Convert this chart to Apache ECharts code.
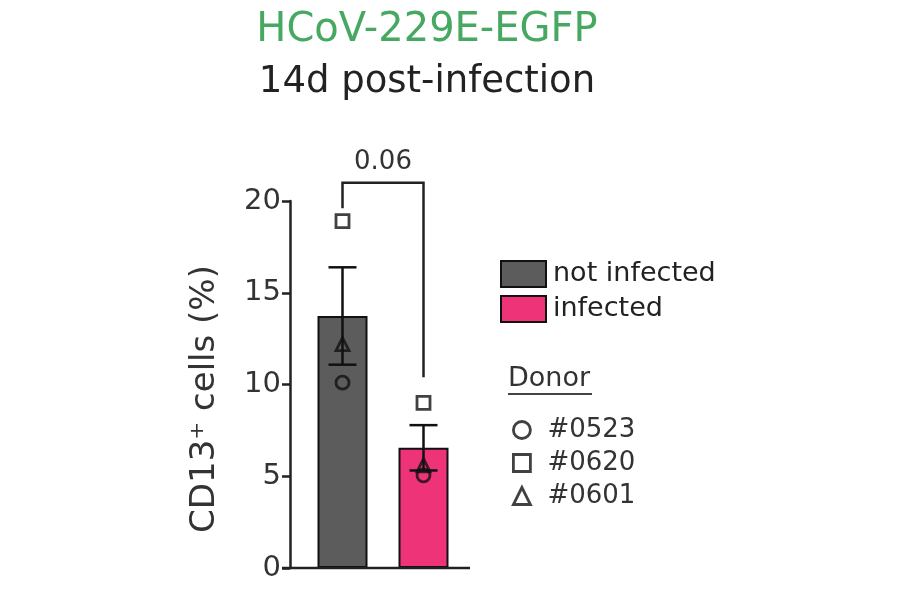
<!DOCTYPE html>
<html>
<head>
<meta charset="utf-8">
<script src="https://cdn.jsdelivr.net/npm/echarts@6/dist/echarts.min.js"></script>
<style>html,body{margin:0;padding:0;background:#fff}#c{width:900px;height:594px}</style>
</head>
<body>
<div id="c"></div>
<script>
// ---- data ----
const categories = ['not infected', 'infected'];
const donorNames = ['#0523', '#0620', '#0601'];
const donor0523 = [10.1, 5.05];   // circle
const donor0620 = [18.9, 9.0];    // square
const donor0601 = [12.2, 5.6];    // triangle
const yTicks = [0, 5, 10, 15, 20];
const pValueText = '0.06';
const bracketLeftEnd = [19.6];
const bracketTop = [21.0];
const bracketRightEnd = [10.4];
const pLabelValue = [22.1];
const titleLine1 = 'HCoV-229E-EGFP';
const titleLine2 = '14d post-infection';
const yAxisTitle = 'CD13\u207A cells (%)';
const legendTitle = 'Donor';

// ---- derived stats ----
const donorSets = [donor0523, donor0620, donor0601];
const means = categories.map((c, i) => donorSets.reduce((s, d) => s + d[i], 0) / donorSets.length);
const sems = categories.map((c, i) => {
  const m = means[i];
  const v = donorSets.reduce((s, d) => s + (d[i] - m) ** 2, 0) / (donorSets.length - 1);
  return Math.sqrt(v) / Math.sqrt(donorSets.length);
});

// ---- layout ----
const FONT = 'DejaVu Sans';
const gridLeft = 302, gridWidth = 162, gridTop = 201, gridBottom = 26;
const axisOffset = 12, tickLen = 8;
const barColors = ['#5c5c5c', '#ef3378'];

const chart = echarts.init(document.getElementById('c'), null, {renderer: 'canvas'});

const barSeries = categories.map((name, i) => ({
  type: 'bar',
  name: name,
  data: categories.map((c, j) => j === i ? means[j] : '-'),
  barWidth: 50,
  barGap: '-100%',
  itemStyle: {color: barColors[i], borderColor: '#111', borderWidth: 2},
  z: 2
}));

const errSeries = {
  type: 'custom',
  name: 'err',
  data: categories.map((c, i) => [i, means[i] - sems[i], means[i] + sems[i]]),
  z: 3,
  renderItem: function (params, api) {
    const lo = api.coord([api.value(0), api.value(1)]);
    const hi = api.coord([api.value(0), api.value(2)]);
    const cw = 14;
    const st = {stroke: '#111', lineWidth: 2.5};
    return {type: 'group', children: [
      {type: 'line', shape: {x1: hi[0], y1: hi[1], x2: lo[0], y2: lo[1]}, style: st},
      {type: 'line', shape: {x1: hi[0] - cw, y1: hi[1], x2: hi[0] + cw, y2: hi[1]}, style: st},
      {type: 'line', shape: {x1: lo[0] - cw, y1: lo[1], x2: lo[0] + cw, y2: lo[1]}, style: st}
    ]};
  }
};

const symbols = ['circle', 'rect', 'triangle'];
const scatterSeries = donorNames.map((n, k) => ({
  type: 'scatter',
  name: n,
  data: categories.map((c, i) => [i, donorSets[k][i]]),
  symbol: symbols[k],
  symbolSize: 13,
  itemStyle: {color: 'rgba(0,0,0,0)', borderColor: '#111', borderWidth: 2.8},
  z: 4,
  clip: false
}));

const bracketSeries = {
  type: 'custom',
  name: 'bracket',
  clip: false,
  z: 5,
  data: [[0, 1, bracketLeftEnd[0], bracketTop[0], bracketRightEnd[0], pLabelValue[0]]],
  renderItem: function (params, api) {
    const a = api.coord([api.value(0), api.value(2)]);
    const b = api.coord([api.value(0), api.value(3)]);
    const c = api.coord([api.value(1), api.value(3)]);
    const d = api.coord([api.value(1), api.value(4)]);
    const t = api.coord([api.value(0), api.value(5)]);
    const tx = (b[0] + c[0]) / 2;
    return {type: 'group', children: [
      {type: 'polyline', shape: {points: [a, b, c, d]}, style: {stroke: '#222', lineWidth: 2.5, fill: null}},
      {type: 'text', x: tx, y: t[1], style: {text: pValueText, font: '26px "' + FONT + '"', fill: '#333', align: 'center', verticalAlign: 'middle'}}
    ]};
  }
};

const axisY = 594 - gridBottom;
const axisX = gridLeft - axisOffset;

chart.setOption({
  animation: false,
  backgroundColor: '#fff',
  grid: {left: gridLeft, width: gridWidth, top: gridTop, bottom: gridBottom, containLabel: false},
  xAxis: {
    type: 'category', data: categories,
    axisLine: {show: false}, axisTick: {show: false}, axisLabel: {show: false}
  },
  yAxis: {
    type: 'value', min: yTicks[0], max: yTicks[yTicks.length - 1], interval: yTicks[1] - yTicks[0],
    offset: axisOffset,
    axisLine: {show: true, lineStyle: {color: '#222', width: 2.5}},
    axisTick: {show: true, length: tickLen, lineStyle: {color: '#222', width: 2.5}},
    axisLabel: {margin: 9, fontSize: 29, fontFamily: FONT, color: '#333'},
    splitLine: {show: false}
  },
  legend: [
    {
      data: categories.map(n => ({name: n, icon: 'rect'})), orient: 'vertical', left: 495, top: 255,
      itemWidth: 45, itemHeight: 26, itemGap: 7, selectedMode: false,
      textStyle: {fontSize: 27, fontFamily: FONT, color: '#222', padding: [0, 0, 0, 2]}
    },
    {
      data: donorNames.map((n, k) => ({name: n, icon: symbols[k]})),
      orient: 'vertical', left: 507, top: 412,
      itemWidth: 17, itemHeight: 17, itemGap: 7, selectedMode: false,
      itemStyle: {color: 'rgba(0,0,0,0)', borderColor: '#111', borderWidth: 2.8},
      textStyle: {fontSize: 26, fontFamily: FONT, color: '#333', padding: [0, 0, 0, 12]}
    }
  ],
  graphic: [
    {type: 'text', x: 427, y: 31, style: {text: titleLine1, font: '40px "' + FONT + '"', fill: '#47a862', align: 'center', verticalAlign: 'middle'}},
    {type: 'text', x: 427, y: 82, style: {text: titleLine2, font: '37px "' + FONT + '"', fill: '#222', align: 'center', verticalAlign: 'middle'}},
    {type: 'text', x: 205, y: 399, rotation: Math.PI / 2, style: {text: yAxisTitle, font: '34px "' + FONT + '"', fill: '#333', align: 'center', verticalAlign: 'middle'}},
    {type: 'text', x: 508, y: 379, style: {text: legendTitle, font: '27px "' + FONT + '"', fill: '#333', align: 'left', verticalAlign: 'middle'}},
    {type: 'line', shape: {x1: 508, y1: 394, x2: 592, y2: 394}, style: {stroke: '#444', lineWidth: 2}},
    {type: 'line', shape: {x1: axisX - tickLen, y1: axisY, x2: 470, y2: axisY}, style: {stroke: '#222', lineWidth: 2.5}, z: 10}
  ],
  series: [...barSeries, errSeries, ...scatterSeries, bracketSeries]
});
</script>
</body>
</html>
